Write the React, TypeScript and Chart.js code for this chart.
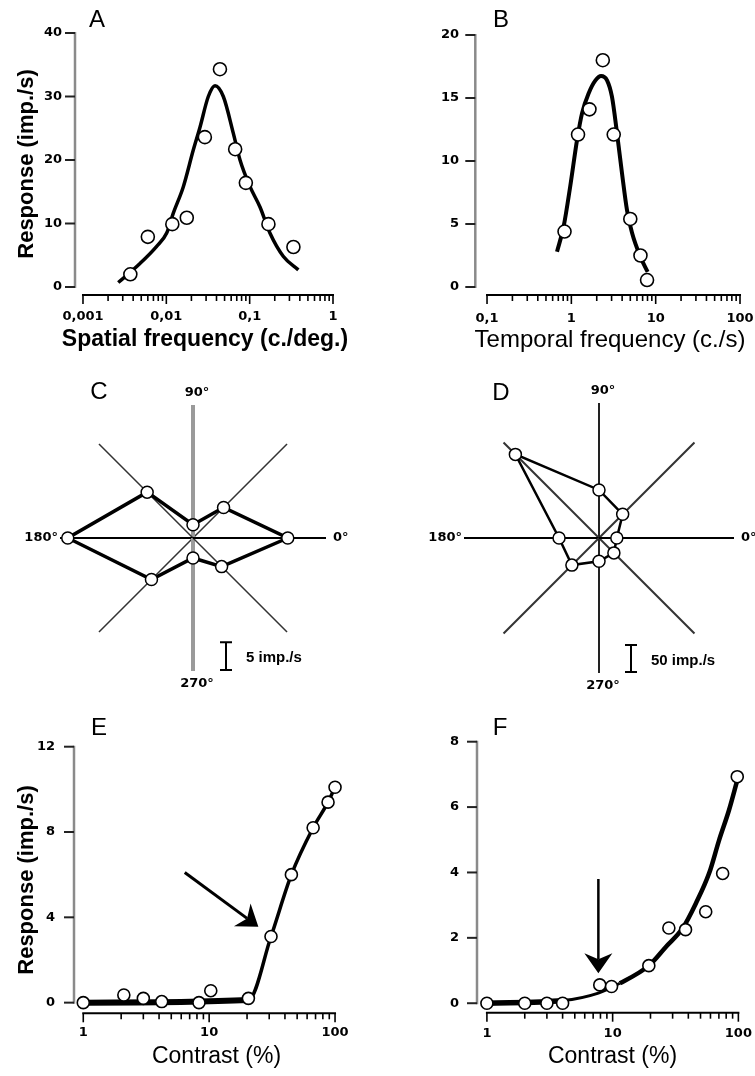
import React, { useEffect, useRef } from "react";
import { Chart, registerables } from "chart.js";

Chart.register(...registerables);
Chart.defaults.color = "#000";

// ---------------- Panel A: spatial frequency tuning ----------------
const spatialFreq = [0.0037, 0.006, 0.0118, 0.0176, 0.029, 0.044, 0.067, 0.09, 0.168, 0.335];
const spatialResp = [2.0, 7.9, 9.9, 10.9, 23.6, 34.3, 21.7, 16.4, 9.9, 6.3];
const spatialFitFreq = [0.00265, 0.00483, 0.00766, 0.0101, 0.0121, 0.016, 0.0211, 0.0254, 0.0319, 0.0384, 0.0483, 0.0637, 0.0766, 0.101, 0.133, 0.175, 0.254, 0.384];
const spatialFitResp = [0.7, 3.7, 6.4, 8.5, 11.6, 15.8, 21.6, 25.2, 30.0, 31.7, 30.0, 24.2, 20.0, 15.8, 12.6, 8.5, 4.8, 2.7];
const spatialDecades = [0.001, 0.01, 0.1, 1];
const spatialDecadeLabels = ["0,001", "0,01", "0,1", "1"];
const spatialYTicks = [0, 10, 20, 30, 40];

// ---------------- Panel B: temporal frequency tuning ----------------
const temporalFreq = [0.83, 1.2, 1.64, 2.36, 3.18, 5.0, 6.6, 7.9];
const temporalResp = [4.4, 12.1, 14.1, 18.0, 12.1, 5.4, 2.5, 0.55];
const temporalFitFreq = [0.676, 0.81, 0.97, 1.17, 1.34, 1.61, 1.93, 2.25, 2.65, 3.03, 3.48, 3.99, 4.57, 5.24, 6.58, 8.03];
const temporalFitResp = [2.8, 4.8, 8.0, 11.7, 13.8, 15.4, 16.4, 16.75, 16.4, 15.1, 12.2, 9.0, 6.1, 4.3, 2.4, 1.2];
const temporalDecades = [0.1, 1, 10, 100];
const temporalDecadeLabels = ["0,1", "1", "10", "100"];
const temporalYTicks = [0, 5, 10, 15, 20];

// ---------------- Panels C & D: orientation / direction (polar) ----------------
const orientations = [0, 45, 90, 135, 180, 225, 270, 315];
const orientRespC = [17.1, 7.8, 2.4, 11.7, 22.6, 10.6, 3.6, 7.3];
const orientRespD = [33, 62, 89, 219, 74, 71, 43, 39];
const axisMaxC = 24;
const axisMaxD = 250;
const scaleBarC = 5;
const scaleBarD = 50;

// ---------------- Panel E: contrast response ----------------
const contrastE = [1, 2.1, 3, 4.2, 8.3, 10.3, 20.5, 31, 45, 67, 88, 100];
const respE = [0, 0.36, 0.2, 0.05, 0, 0.56, 0.2, 3.1, 6.0, 8.2, 9.4, 10.1];
const fitContrastE = [1, 20.5, 31, 45, 67, 88, 100];
const fitRespE = [0, 0.12, 3.1, 6.0, 8.2, 9.4, 10.1];
const arrowTailE = [6.4, 6.1];
const arrowTipE = [24.6, 3.56];
const contrastYTicksE = [0, 4, 8, 12];

// ---------------- Panel F: contrast response ----------------
const contrastF = [1, 2, 3, 4, 7.9, 9.8, 19.4, 28, 38, 55, 75, 98];
const respF = [0, 0, 0, 0, 0.56, 0.51, 1.15, 2.3, 2.25, 2.8, 3.97, 6.93];
const fitContrastF = [1, 4, 7.7, 11.4, 19.4, 26.6, 36, 46, 58.6, 70.3, 84.3, 98.2];
const fitRespF = [0, 0.08, 0.31, 0.61, 1.15, 1.73, 2.29, 3.06, 3.98, 4.99, 5.91, 6.83];
const arrowTailF = [7.7, 3.8];
const arrowTipF = [7.7, 0.92];
const contrastYTicksF = [0, 2, 4, 6, 8];

const contrastDecades = [1, 10, 100];
const contrastDecadeLabels = ["1", "10", "100"];

// -------------------------------------------------------------------
const SANS = "'Liberation Sans', Arial, sans-serif";
const DEJAVU = "'DejaVu Sans', sans-serif";

function logTicks(decades: number[]) {
  const out: number[] = [];
  for (let i = 0; i < decades.length - 1; i++) {
    for (let m = 1; m < 10; m++) out.push(decades[i] * m);
  }
  out.push(decades[decades.length - 1]);
  return out;
}

function pts(xs: number[], ys: number[]) {
  return xs.map((x, i) => ({ x, y: ys[i] }));
}

function isDecade(v: number, decades: number[]) {
  return decades.findIndex((d) => Math.abs(v / d - 1) < 1e-6);
}

type Box = { left: number; top: number; width: number; height: number };

function drawArrow(ctx: any, x0: number, y0: number, x1: number, y1: number, lw: number) {
  const dx = x1 - x0, dy = y1 - y0;
  const L = Math.hypot(dx, dy);
  const ux = dx / L, uy = dy / L;
  const px = -uy, py = ux;
  const headLen = 20, halfW = 14, notch = 14;
  const bx = x1 - ux * headLen, by = y1 - uy * headLen;
  const nx = x1 - ux * notch, ny = y1 - uy * notch;
  ctx.save();
  ctx.strokeStyle = "#000";
  ctx.fillStyle = "#000";
  ctx.lineWidth = lw;
  ctx.beginPath();
  ctx.moveTo(x0, y0);
  ctx.lineTo(nx, ny);
  ctx.stroke();
  ctx.beginPath();
  ctx.moveTo(x1, y1);
  ctx.lineTo(bx + px * halfW, by + py * halfW);
  ctx.lineTo(nx, ny);
  ctx.lineTo(bx - px * halfW, by - py * halfW);
  ctx.closePath();
  ctx.fill();
  ctx.restore();
}

function buildRect(canvas: HTMLCanvasElement, p: any) {
  const box: Box = p.box;
  const canvasBottom = box.top + box.height;
  const tickFontSize = 13;
  const tickLH = tickFontSize * 1.2;
  const xTicks = logTicks(p.decades);
  const plugin = {
    id: "panelDecor",
    beforeDatasetsDraw(chart: any) {
      const { ctx, chartArea } = chart;
      const xs = chart.scales.x, ys = chart.scales.y;
      ctx.save();
      const ax = chartArea.left;
      const yTop = ys.getPixelForValue(p.yTicks[p.yTicks.length - 1]);
      const yBot = ys.getPixelForValue(p.yTicks[0]);
      ctx.strokeStyle = "#8a8a8a";
      ctx.lineWidth = 2.5;
      ctx.beginPath();
      ctx.moveTo(ax, yTop - 1);
      ctx.lineTo(ax, yBot + 1);
      ctx.stroke();
      ctx.strokeStyle = "#222";
      ctx.lineWidth = 2;
      p.yTicks.forEach((v: number) => {
        const py = ys.getPixelForValue(v);
        ctx.beginPath();
        ctx.moveTo(ax - 10, py);
        ctx.lineTo(ax, py);
        ctx.stroke();
      });
      const ay = chartArea.bottom;
      const x0 = xs.getPixelForValue(p.decades[0]);
      const x1 = xs.getPixelForValue(p.decades[p.decades.length - 1]);
      ctx.strokeStyle = "#000";
      ctx.lineWidth = 2;
      ctx.beginPath();
      ctx.moveTo(x0 - 1, ay);
      ctx.lineTo(x1 + 1, ay);
      ctx.stroke();
      ctx.lineWidth = 1.6;
      xs.ticks.forEach((t: any) => {
        const px = xs.getPixelForValue(t.value);
        const major = isDecade(t.value, p.decades) >= 0;
        ctx.beginPath();
        ctx.moveTo(px, ay);
        ctx.lineTo(px, ay + (major ? 9 : 6));
        ctx.stroke();
      });
      ctx.restore();
    },
    afterDraw(chart: any) {
      const { ctx } = chart;
      ctx.save();
      ctx.fillStyle = "#000";
      ctx.textAlign = "center";
      ctx.textBaseline = "middle";
      ctx.font = `24px ${SANS}`;
      ctx.fillText(p.letter, p.letterPos[0] - box.left, p.letterPos[1] - box.top);
      // x-axis title
      ctx.font = p.xTitleFont;
      ctx.fillText(p.xTitle, p.xTitlePos[0] - box.left, p.xTitlePos[1] - box.top);
      ctx.restore();
      if (p.arrow) {
        const xs = chart.scales.x, ys = chart.scales.y;
        const [t, h] = p.arrow;
        drawArrow(ctx, xs.getPixelForValue(t[0]), ys.getPixelForValue(t[1]), xs.getPixelForValue(h[0]), ys.getPixelForValue(h[1]), p.arrowWidth);
      }
    },
  };

  const yScale: any = {
    type: "linear",
    min: p.yMin,
    max: p.yMax,
    afterBuildTicks: (s: any) => {
      s.ticks = p.yTicks.map((v: number) => ({ value: v }));
    },
    afterFit: (s: any) => {
      s.width = p.area.left - box.left;
      s.paddingTop = 0;
      s.paddingBottom = 0;
    },
    grid: { display: false, drawTicks: false },
    border: { display: false },
    ticks: {
      autoSkip: false,
      padding: p.area.left - p.yLabelRight,
      font: { family: DEJAVU, size: tickFontSize, weight: "bold" },
      color: "#000",
      callback: (v: any) => String(v),
    },
    title: p.yTitle
      ? {
          display: true,
          text: p.yTitle,
          color: "#000",
          font: { family: SANS, size: 22, weight: "bold" },
          padding: { top: p.yTitleX - box.left - 22 * 1.2 / 2, bottom: 0 },
        }
      : { display: false },
  };

  return new Chart(canvas, {
    type: "line",
    data: {
      datasets: [
        {
          data: pts(p.xs, p.ys),
          showLine: false,
          pointRadius: p.pointRadius,
          pointBackgroundColor: "#fff",
          pointBorderColor: "#000",
          pointBorderWidth: 1.6,
          order: 0,
          clip: false,
        },
        {
          data: pts(p.fitX, p.fitY),
          borderColor: "#000",
          borderWidth: p.fitWidth,
          pointRadius: 0,
          fill: false,
          cubicInterpolationMode: "monotone",
          order: 1,
          clip: false,
          segment: p.segmentWidth ? { borderWidth: p.segmentWidth } : undefined,
        },
      ],
    },
    options: {
      responsive: false,
      animation: false,
      devicePixelRatio: 1,
      layout: {
        padding: {
          left: 0,
          top: p.area.top - box.top,
          right: box.left + box.width - p.area.right,
          bottom: 0,
        },
      },
      plugins: { legend: { display: false }, tooltip: { enabled: false } },
      scales: {
        x: {
          type: "logarithmic",
          min: p.xMin,
          max: p.xMax,
          afterBuildTicks: (s: any) => {
            s.ticks = xTicks.map((v) => ({ value: v }));
          },
          afterFit: (s: any) => {
            s.height = canvasBottom - p.area.bottom;
            s.paddingLeft = 0;
            s.paddingRight = 0;
          },
          grid: { display: false, drawTicks: false },
          border: { display: false },
          ticks: {
            autoSkip: false,
            maxRotation: 0,
            minRotation: 0,
            padding: p.xLabelY - p.area.bottom - tickLH / 2,
            font: { family: DEJAVU, size: tickFontSize, weight: "bold" },
            color: "#000",
            callback: (v: any) => {
              const i = isDecade(Number(v), p.decades);
              return i >= 0 ? p.decadeLabels[i] : "";
            },
          },
          title: { display: false },
        },
        y: yScale,
      },
    } as any,
    plugins: [plugin as any],
  });
}

function buildPolar(canvas: HTMLCanvasElement, p: any) {
  const box: Box = p.box;
  // radar index i (clockwise from 3 o'clock) -> compass orientation index
  const order = [0, 7, 6, 5, 4, 3, 2, 1];
  const labels = order.map((i) => `${orientations[i]}°`);
  const data = order.map((i) => p.values[i]);
  const angleOf = (idx: number) => orientations[order[idx]];
  const R = p.radius;
  const plugin = {
    id: "polarDecor",
    afterDraw(chart: any) {
      const { ctx } = chart;
      const s = chart.scales.r;
      const cx = s.xCenter, cy = s.yCenter, Rr = s.drawingArea;
      ctx.save();
      ctx.fillStyle = "#000";
      ctx.font = `bold 13px ${DEJAVU}`;
      ctx.textBaseline = "middle";
      ctx.textAlign = "center";
      ctx.fillText("90°", cx + 4, cy - Rr - 12);
      ctx.fillText("270°", cx + 4, cy + Rr + 13);
      ctx.textAlign = "left";
      ctx.fillText("0°", cx + Rr + 7, cy);
      ctx.textAlign = "right";
      ctx.fillText("180°", cx - Rr - 2, cy);
      // scale bar
      const len = s.getDistanceFromCenterForValue(p.barValue);
      const bx = cx + p.barDx;
      const by = cy + Rr - 1;
      ctx.strokeStyle = "#000";
      ctx.lineWidth = 2;
      ctx.beginPath();
      ctx.moveTo(bx, by);
      ctx.lineTo(bx, by - len);
      ctx.moveTo(bx - 6, by);
      ctx.lineTo(bx + 6, by);
      ctx.moveTo(bx - 6, by - len);
      ctx.lineTo(bx + 6, by - len);
      ctx.stroke();
      ctx.textAlign = "left";
      ctx.font = `bold 15px ${SANS}`;
      ctx.fillText(p.barLabel, bx + 20, by - len / 2 + 2);
      // panel letter
      ctx.font = `24px ${SANS}`;
      ctx.textAlign = "center";
      ctx.fillText(p.letter, p.letterPos[0] - box.left, p.letterPos[1] - box.top);
      ctx.restore();
    },
  };
  return new Chart(canvas, {
    type: "radar",
    data: {
      labels,
      datasets: [
        {
          data,
          borderColor: "#000",
          borderWidth: p.lineWidth,
          pointRadius: 6,
          pointBackgroundColor: "#fff",
          pointBorderColor: "#000",
          pointBorderWidth: 1.5,
          fill: false,
          tension: 0,
        },
      ],
    },
    options: {
      responsive: false,
      animation: false,
      devicePixelRatio: 1,
      layout: {
        padding: {
          left: p.cx - R,
          right: box.width - p.cx - R,
          top: p.cy - R,
          bottom: box.height - p.cy - R,
        },
      },
      plugins: { legend: { display: false }, tooltip: { enabled: false } },
      scales: {
        r: {
          min: 0,
          max: p.max,
          startAngle: 90,
          ticks: { display: false },
          grid: { display: false },
          pointLabels: { display: false },
          angleLines: {
            display: true,
            color: (c: any) => {
              const a = angleOf(c.index);
              if (a === 90 || a === 270) return p.vColor;
              if (a === 0 || a === 180) return "#000";
              return p.dColor;
            },
            lineWidth: (c: any) => {
              const a = angleOf(c.index);
              if (a === 90 || a === 270) return p.vWidth;
              if (a === 0 || a === 180) return 2;
              return p.dWidth;
            },
          },
        },
      },
    } as any,
    plugins: [plugin as any],
  });
}

const panelA = {
  box: { left: 0, top: 0, width: 377, height: 360 },
  area: { left: 75, right: 333, top: 33, bottom: 295 },
  xMin: 0.000802,
  xMax: 1,
  yMin: -1.26,
  yMax: 40,
  decades: spatialDecades,
  decadeLabels: spatialDecadeLabels,
  yTicks: spatialYTicks,
  xs: spatialFreq,
  ys: spatialResp,
  fitX: spatialFitFreq,
  fitY: spatialFitResp,
  fitWidth: 3.5,
  pointRadius: 6.5,
  xLabelY: 316.5,
  yLabelRight: 62,
  xTitle: "Spatial frequency (c./deg.)",
  xTitleFont: `bold 23px ${SANS}`,
  xTitlePos: [205, 340],
  yTitle: "Response (imp./s)",
  yTitleX: 27,
  letter: "A",
  letterPos: [97, 20],
};

const panelB = {
  box: { left: 377, top: 0, width: 378, height: 360 },
  area: { left: 475.3, right: 745, top: 35, bottom: 295 },
  xMin: 0.0726,
  xMax: 114.6,
  yMin: -0.635,
  yMax: 20,
  decades: temporalDecades,
  decadeLabels: temporalDecadeLabels,
  yTicks: temporalYTicks,
  xs: temporalFreq,
  ys: temporalResp,
  fitX: temporalFitFreq,
  fitY: temporalFitResp,
  fitWidth: 4,
  pointRadius: 6.5,
  xLabelY: 319,
  yLabelRight: 459,
  xTitle: "Temporal frequency (c./s)",
  xTitleFont: `24px ${SANS}`,
  xTitlePos: [610, 340],
  letter: "B",
  letterPos: [501, 20],
};

const panelE = {
  box: { left: 0, top: 700, width: 377, height: 376 },
  area: { left: 74, right: 359, top: 746.7, bottom: 1013.3 },
  xMin: 0.844,
  xMax: 155,
  yMin: -0.5,
  yMax: 12,
  decades: contrastDecades,
  decadeLabels: contrastDecadeLabels,
  yTicks: contrastYTicksE,
  xs: contrastE,
  ys: respE,
  fitX: fitContrastE,
  fitY: fitRespE,
  fitWidth: 3.5,
  segmentWidth: (c: any) => (c.p0.parsed.y < 0.5 && c.p1.parsed.y < 0.5 ? 6 : 3.5),
  pointRadius: 6,
  xLabelY: 1033,
  yLabelRight: 55,
  xTitle: "Contrast (%)",
  xTitleFont: `23px ${SANS}`,
  xTitlePos: [216.5, 1057],
  yTitle: "Response (imp./s)",
  yTitleX: 27,
  letter: "E",
  letterPos: [99, 728],
  arrow: [arrowTailE, arrowTipE],
  arrowWidth: 3,
};

const panelF = {
  box: { left: 377, top: 700, width: 378, height: 376 },
  area: { left: 477, right: 749, top: 741.7, bottom: 1012.7 },
  xMin: 0.834,
  xMax: 118,
  yMin: -0.29,
  yMax: 8,
  decades: contrastDecades,
  decadeLabels: contrastDecadeLabels,
  yTicks: contrastYTicksF,
  xs: contrastF,
  ys: respF,
  fitX: fitContrastF,
  fitY: fitRespF,
  fitWidth: 4.5,
  segmentWidth: (c: any) => (c.p0DataIndex === 0 ? 5.5 : c.p0DataIndex < 3 ? 3 : 4.5),
  pointRadius: 6,
  xLabelY: 1034,
  yLabelRight: 459,
  xTitle: "Contrast (%)",
  xTitleFont: `23px ${SANS}`,
  xTitlePos: [612.5, 1057],
  letter: "F",
  letterPos: [500, 728],
  arrow: [arrowTailF, arrowTipF],
  arrowWidth: 2.5,
};

const panelC = {
  box: { left: 23, top: 373, width: 340, height: 330 },
  cx: 170,
  cy: 165,
  radius: 133,
  max: axisMaxC,
  values: orientRespC,
  lineWidth: 3.5,
  vColor: "#9a9a9a",
  vWidth: 4,
  dColor: "#333",
  dWidth: 1.5,
  barValue: scaleBarC,
  barDx: 33,
  barLabel: "5 imp./s",
  letter: "C",
  letterPos: [99, 392],
};

const panelD = {
  box: { left: 429, top: 373, width: 340, height: 330 },
  cx: 170,
  cy: 165,
  radius: 135,
  max: axisMaxD,
  values: orientRespD,
  lineWidth: 2.5,
  vColor: "#222",
  vWidth: 2,
  dColor: "#333",
  dWidth: 2,
  barValue: scaleBarD,
  barDx: 32,
  barLabel: "50 imp./s",
  letter: "D",
  letterPos: [501, 393],
};

function ChartCanvas({ box, build }: { box: Box; build: (c: HTMLCanvasElement) => Chart }) {
  const ref = useRef<HTMLCanvasElement>(null);
  useEffect(() => {
    const chart = build(ref.current as HTMLCanvasElement);
    return () => chart.destroy();
  }, []);
  return (
    <canvas
      ref={ref}
      width={box.width}
      height={box.height}
      style={{ position: "absolute", left: box.left, top: box.top, width: box.width, height: box.height }}
    />
  );
}

export default function App() {
  return (
    <div
      style={{
        position: "absolute",
        left: 0,
        top: 0,
        width: 755,
        height: 1076,
        overflow: "hidden",
        background: "#fff",
      }}
    >
      <ChartCanvas box={panelA.box} build={(c) => buildRect(c, panelA)} />
      <ChartCanvas box={panelB.box} build={(c) => buildRect(c, panelB)} />
      <ChartCanvas box={panelC.box} build={(c) => buildPolar(c, panelC)} />
      <ChartCanvas box={panelD.box} build={(c) => buildPolar(c, panelD)} />
      <ChartCanvas box={panelE.box} build={(c) => buildRect(c, panelE)} />
      <ChartCanvas box={panelF.box} build={(c) => buildRect(c, panelF)} />
    </div>
  );
}
